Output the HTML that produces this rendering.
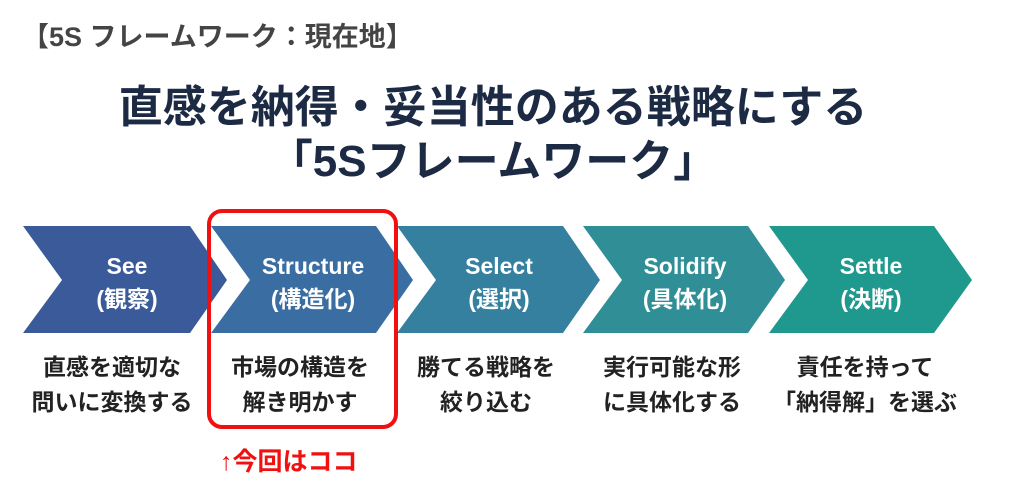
<!DOCTYPE html>
<html><head><meta charset="utf-8"><style>
body{margin:0;width:1026px;height:493px;background:#fff;position:relative;overflow:hidden;font-family:"Liberation Sans","Noto Sans CJK JP",sans-serif}
.t{position:absolute;white-space:nowrap;font-weight:bold}
.c{text-align:center}
</style></head><body>
<div class="t" style="left:22px;top:15px;font-size:27px;color:#444">【5S フレームワーク：現在地】</div>
<div class="t c" style="left:0;width:986px;top:71px;font-size:44px;color:#1d2a44">直感を納得・妥当性のある戦略にする</div>
<div class="t c" style="left:0;width:986px;top:125px;font-size:44px;color:#1d2a44">「5Sフレームワーク」</div>
<svg style="position:absolute;left:0;top:0" width="1026" height="493">
<polygon points="23,226 190,226 227,280 190,333 23,333 62,280" fill="#3a5a9a"/>
<polygon points="211,226 376,226 413,280 376,333 211,333 250,280" fill="#3a6ea2"/>
<polygon points="397,226 563,226 600,280 563,333 397,333 436,280" fill="#35809e"/>
<polygon points="583,226 748,226 785,280 748,333 583,333 622,280" fill="#2f8e96"/>
<polygon points="769,226 934,226 972,280 934,333 769,333 808,280" fill="#1f998e"/>
<rect x="209" y="211" width="187" height="216" rx="13" fill="none" stroke="#f01010" stroke-width="4"/>
</svg>
<div class="t c" style="left:52px;width:150px;top:250px;font-size:23px;color:#fff;line-height:33px">See<br>(観察)</div>
<div class="t c" style="left:238px;width:150px;top:250px;font-size:23px;color:#fff;line-height:33px">Structure<br>(構造化)</div>
<div class="t c" style="left:424px;width:150px;top:250px;font-size:23px;color:#fff;line-height:33px">Select<br>(選択)</div>
<div class="t c" style="left:610px;width:150px;top:250px;font-size:23px;color:#fff;line-height:33px">Solidify<br>(具体化)</div>
<div class="t c" style="left:796px;width:150px;top:250px;font-size:23px;color:#fff;line-height:33px">Settle<br>(決断)</div>
<div class="t c" style="left:12px;width:200px;top:350px;font-size:23px;color:#222;line-height:35px">直感を適切な<br>問いに変換する</div>
<div class="t c" style="left:200px;width:200px;top:350px;font-size:23px;color:#222;line-height:35px">市場の構造を<br>解き明かす</div>
<div class="t c" style="left:386px;width:200px;top:350px;font-size:23px;color:#222;line-height:35px">勝てる戦略を<br>絞り込む</div>
<div class="t c" style="left:572px;width:200px;top:350px;font-size:23px;color:#222;line-height:35px">実行可能な形<br>に具体化する</div>
<div class="t c" style="left:755px;width:220px;top:350px;font-size:23px;color:#222;line-height:35px">責任を持って<br>「納得解」を選ぶ</div>
<div class="t" style="left:220px;top:442px;font-size:25px;color:#f01010">↑今回はココ</div>
</body></html>
